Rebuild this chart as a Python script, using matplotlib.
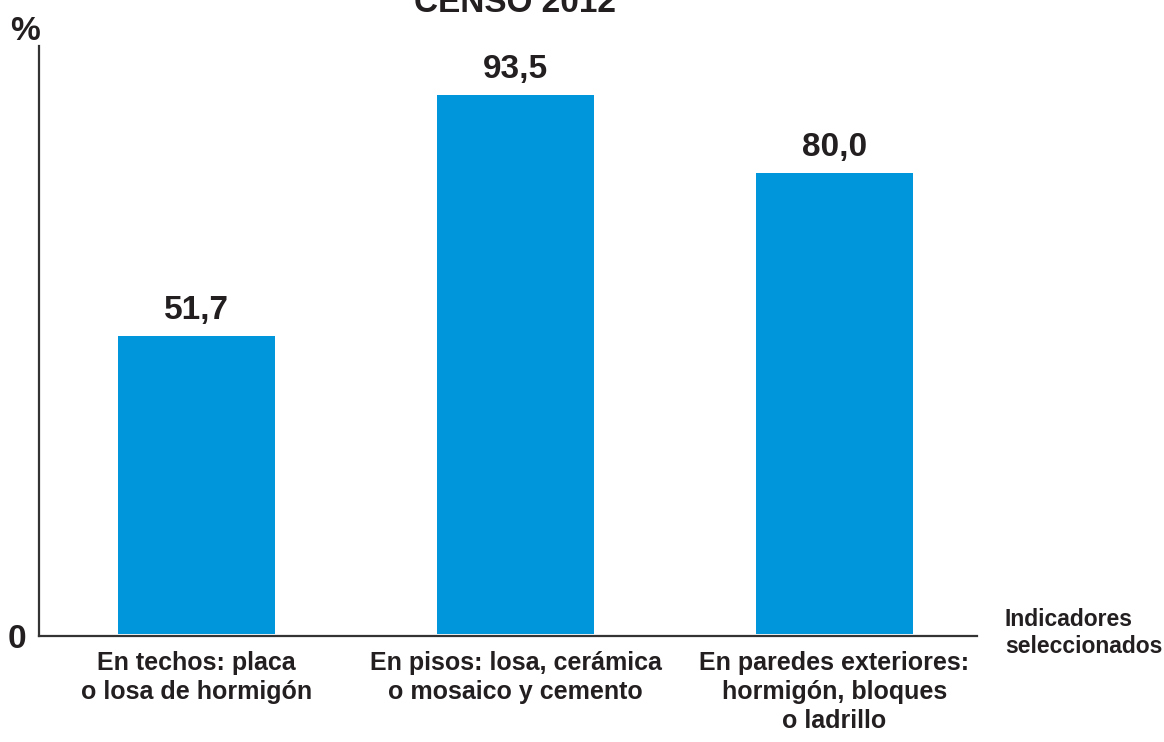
import numpy as np
import matplotlib.pyplot as plt

# indicadores de vivienda, censo 2012
categorias = ["En techos: placa\no losa de hormigón",
              "En pisos: losa, cerámica\no mosaico y cemento",
              "En paredes exteriores:\nhormigón, bloques\no ladrillo"]
porcentajes = [51.7, 93.5, 80.0]
etiquetas = ["51,7", "93,5", "80,0"]

plt.rcParams['font.family'] = ['Liberation Sans Narrow', 'Liberation Sans', 'DejaVu Sans']
plt.rcParams['font.weight'] = 'bold'
texto = "#231f20"

fig = plt.figure(figsize=(11.64, 7.42), dpi=100)
ax = fig.add_axes([39/1164, 1 - 636/742, (977-39)/1164, (636-46)/742])

x = np.arange(len(categorias))
barras = ax.bar(x, porcentajes, width=0.49, color="#0096db", zorder=2)

#valores encima de cada barra
for xi, v, et in zip(x, porcentajes, etiquetas):
    ax.annotate(et, (xi, v), xytext=(0, 7), textcoords="offset points",
                ha="center", va="bottom", fontsize=24, fontweight="bold", color=texto)

ax.set_xlim(-0.494, 2.447)
ax.set_ylim(-0.35, 102)

ax.set_xticks(x)
ax.set_xticklabels(categorias, fontsize=18, fontweight="bold", color=texto,
                   linespacing=1.25, va="top")
ax.tick_params(axis="x", length=0, pad=11)
ax.set_yticks([])

for s in ["top", "right"]:
    ax.spines[s].set_visible(False)
for s in ["left", "bottom"]:
    ax.spines[s].set_color("#333333")
    ax.spines[s].set_linewidth(1.6)

fig.text(515/1164, 1 - 4/742, "CENSO 2012", ha="center", va="center",
         fontsize=24, fontweight="bold", color=texto)
fig.text(25/1164, 1 - 31/742, "%", ha="center", va="center",
         fontsize=24, fontweight="bold", color=texto)
fig.text(17/1164, 1 - 640/742, "0", ha="center", va="center",
         fontsize=24, fontweight="bold", color=texto)
fig.text(1005/1164, 1 - 633/742, "Indicadores\nseleccionados", ha="left", va="center",
         fontsize=16.5, fontweight="bold", color=texto, linespacing=1.2)

fig.savefig("out.png", dpi=100)
